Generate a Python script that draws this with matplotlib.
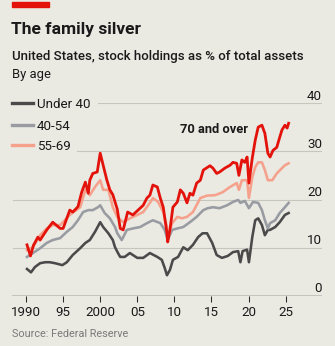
import matplotlib
matplotlib.use("Agg")
import matplotlib.pyplot as plt
from matplotlib.lines import Line2D
from matplotlib.patches import Rectangle
import matplotlib.transforms as mtransforms

# Share of total assets held in stocks, US households by age of head (%)
years_70_over = [1990.13, 1990.6, 1991.0, 1991.6, 1991.9, 1992.8, 1993.6, 1994.6, 1995.0,
                 1995.9, 1996.3, 1997.0, 1997.5, 1998.0, 1998.4, 1998.6, 1999.0, 1999.6,
                 2000.0, 2000.4, 2000.9, 2001.3, 2001.7, 2002.0, 2002.3, 2002.7, 2003.1,
                 2003.7, 2004.4, 2005.1, 2005.8, 2006.3, 2006.7, 2007.1, 2007.7, 2008.1,
                 2008.5, 2009.0, 2009.1, 2009.4, 2009.8, 2010.4, 2010.8, 2011.2, 2011.7,
                 2012.1, 2012.5, 2013.0, 2013.5, 2013.9, 2014.4, 2014.8, 2015.2, 2015.7,
                 2016.1, 2016.8, 2017.5, 2017.9, 2018.4, 2018.7, 2019.1, 2019.5, 2019.8,
                 2020.05, 2020.5, 2020.9, 2021.3, 2021.8, 2022.2, 2022.6, 2022.9, 2023.3,
                 2023.8, 2024.2, 2024.5, 2024.9, 2025.2, 2025.4]
share_70_over = [10.6, 8.3, 10.5, 12.2, 11.6, 13.7, 15.3, 14.0, 14.0,
                 17.8, 17.4, 18.5, 21.5, 23.6, 21.3, 24.0, 25.4, 25.7,
                 29.6, 27.1, 24.0, 22.0, 21.0, 19.5, 18.0, 14.0, 13.7,
                 17.4, 16.8, 17.8, 18.8, 20.3, 20.9, 23.0, 22.6, 20.3,
                 18.4, 13.0, 11.2, 13.7, 18.4, 19.5, 22.0, 21.3, 19.3,
                 21.3, 20.9, 23.4, 24.0, 26.1, 26.6, 27.0, 26.5, 25.4,
                 25.7, 26.5, 27.1, 27.7, 27.5, 25.0, 28.2, 27.7, 28.8,
                 23.4, 28.6, 32.3, 35.0, 35.4, 33.7, 29.6, 28.8, 30.2,
                 30.8, 32.9, 34.4, 35.4, 34.8, 35.8]

years_55_69 = [1990.13, 1990.94, 1991.9, 1992.8, 1993.6, 1994.6, 1995.9, 1997.3, 1998.0,
               1998.6, 1999.3, 2000.0, 2000.4, 2001.1, 2001.7, 2002.3, 2003.1, 2004.0,
               2005.0, 2005.8, 2006.7, 2007.1, 2007.8, 2008.5, 2009.0, 2009.1, 2009.7,
               2010.4, 2011.0, 2011.7, 2012.5, 2013.5, 2014.4, 2015.5, 2016.5, 2017.5,
               2018.4, 2018.7, 2019.1, 2019.8, 2020.05, 2020.5, 2020.9, 2021.3, 2021.8,
               2022.2, 2022.6, 2023.2, 2023.8, 2024.5, 2024.9, 2025.4]
share_55_69 = [9.5, 10.1, 12.6, 14.0, 14.7, 14.7, 16.8, 18.4, 22.0,
               20.9, 22.6, 24.0, 22.0, 22.0, 18.4, 16.4, 15.3, 16.1,
               16.8, 17.4, 19.3, 20.3, 19.5, 17.4, 14.3, 12.0, 15.1,
               16.4, 16.1, 16.4, 17.4, 20.3, 20.8, 20.9, 21.5, 22.6,
               23.4, 22.0, 24.0, 24.0, 20.3, 24.6, 26.7, 27.7, 27.7,
               26.1, 24.0, 24.0, 25.4, 26.5, 27.1, 27.5]

years_40_54 = [1990.13, 1990.94, 1991.9, 1992.8, 1993.6, 1994.6, 1995.5, 1996.3, 1997.0,
               1997.7, 1998.4, 1999.0, 1999.7, 2000.0, 2000.6, 2001.3, 2002.0, 2002.3,
               2002.9, 2003.6, 2004.4, 2005.4, 2006.3, 2007.1, 2008.1, 2008.7, 2009.1,
               2009.7, 2010.4, 2011.2, 2012.1, 2013.0, 2013.9, 2014.5, 2015.2, 2016.1,
               2017.1, 2017.9, 2018.6, 2018.9, 2019.5, 2020.05, 2020.6, 2021.3, 2021.8,
               2022.2, 2022.6, 2022.9, 2023.6, 2024.2, 2024.9, 2025.4]
share_40_54 = [8.1, 8.9, 9.9, 11.0, 11.6, 12.0, 13.3, 14.3, 15.7,
               17.4, 17.8, 17.8, 18.4, 18.8, 17.2, 16.1, 14.3, 13.0,
               11.6, 13.7, 14.0, 14.3, 15.1, 15.7, 15.1, 13.7, 11.6,
               13.7, 14.0, 14.3, 15.3, 16.4, 17.8, 18.2, 18.4, 18.2,
               18.8, 19.5, 19.9, 19.3, 19.7, 18.2, 19.5, 19.3, 17.8,
               15.7, 14.0, 15.1, 15.7, 17.2, 18.4, 19.3]

years_under_40 = [1990.13, 1990.67, 1991.2, 1991.9, 1992.6, 1993.2, 1993.9, 1994.9, 1995.5,
                  1996.3, 1997.3, 1998.0, 1998.6, 1999.3, 2000.0, 2000.4, 2001.1, 2001.7,
                  2002.0, 2002.4, 2002.7, 2003.3, 2004.0, 2005.0, 2005.8, 2006.7, 2007.7,
                  2008.3, 2008.7, 2009.0, 2009.4, 2009.8, 2010.5, 2011.2, 2011.8, 2012.5,
                  2013.2, 2013.8, 2014.4, 2015.1, 2015.7, 2016.4, 2017.2, 2017.9, 2018.6,
                  2018.9, 2019.2, 2019.8, 2020.05, 2020.5, 2020.9, 2021.3, 2021.8, 2022.2,
                  2022.6, 2022.9, 2023.6, 2024.2, 2024.9, 2025.4]
share_under_40 = [5.6, 4.9, 6.0, 6.8, 7.0, 7.0, 6.8, 6.4, 7.0,
                  8.5, 9.9, 11.0, 11.6, 13.3, 15.3, 14.3, 13.0, 11.6,
                  10.1, 8.9, 8.1, 8.1, 8.9, 7.9, 7.9, 8.9, 8.1,
                  7.5, 5.8, 4.3, 5.4, 7.5, 8.1, 10.1, 9.5, 10.6,
                  12.2, 13.0, 13.0, 11.0, 8.5, 7.9, 8.3, 9.1, 9.3,
                  7.0, 9.3, 9.6, 7.0, 12.2, 15.7, 16.1, 14.7, 12.6,
                  13.7, 13.7, 14.3, 15.3, 16.8, 17.2]

series_labels = ["Under 40", "40-54", "55-69", "70 and over"]
y_ticks = [0, 10, 20, 30, 40]
x_ticks = [1990, 1995, 2000, 2005, 2010, 2015, 2020, 2025]
x_tick_labels = ["1990", "95", "2000", "05", "10", "15", "20", "25"]

BG = "#EAE9E2"
RED = "#E3120B"
SALMON = "#F5A18C"
MIDGREY = "#989BA2"
DARKGREY = "#4A4A4A"
GRID = "#C6C5BE"
TEXT = "#1A1A1A"

W, H = 335, 346
plt.rcParams["font.family"] = ["Roboto", "DejaVu Sans"]

fig = plt.figure(figsize=(W / 100, H / 100), dpi=100, facecolor=BG)


def px(x, y):
    return x / W, 1 - y / H


# axes spanning the plot area (pixel edges)
left, right, top, bottom = 12, 322, 103, 296
ax = fig.add_axes([left / W, 1 - bottom / H, (right - left) / W, (bottom - top) / H])
ax.set_facecolor(BG)
ax.set_xlim(1988.11, 2029.9)
ax.set_ylim(0, 40)
for s in ax.spines.values():
    s.set_visible(False)

# horizontal gridlines, cut back where the legend sits
grid_start = {10: 1, 20: 1, 30: 65, 40: 86}
for v in y_ticks[1:]:
    ax.axhline(v, xmin=grid_start[v] / (right - left), xmax=1, color=GRID, lw=0.8, zorder=1)
ax.axhline(0, color="#2B2B2B", lw=1.0, zorder=5)

# right-side value labels above gridlines
off = mtransforms.offset_copy(ax.get_yaxis_transform(), fig=fig, x=0, y=3.5, units="dots")
for v in y_ticks:
    ax.text(1.0, v, str(v), transform=off, ha="right", va="baseline",
            fontsize=9.6, color=TEXT)

ax.set_yticks([])
ax.set_xticks(x_ticks)
ax.set_xticklabels(x_tick_labels)
ax.tick_params(axis="x", direction="out", length=4.3, width=0.75, color="#2B2B2B",
               pad=3.2, labelsize=9.6, labelcolor=TEXT)

lw_main = 1.85
ax.plot(years_under_40, share_under_40, color=DARKGREY, lw=lw_main, zorder=3,
        solid_joinstyle="round", label=series_labels[0])
ax.plot(years_40_54, share_40_54, color=MIDGREY, lw=lw_main, zorder=3.2,
        solid_joinstyle="round", label=series_labels[1])
ax.plot(years_55_69, share_55_69, color=SALMON, lw=lw_main, zorder=3.4,
        solid_joinstyle="round", label=series_labels[2])
ax.plot(years_70_over, share_70_over, color=RED, lw=2.0, zorder=3.6,
        solid_joinstyle="round", label=series_labels[3])

# direct label for the oldest group
fig.text(*px(180, 133.3), series_labels[3], fontsize=9.3, fontweight="bold",
         color=TEXT, ha="left", va="baseline")

# legend swatches
for (yy, col, lab) in [(103, DARKGREY, series_labels[0]),
                       (124.5, MIDGREY, series_labels[1]),
                       (145, SALMON, series_labels[2])]:
    x0, y0 = px(12, yy)
    x1, _ = px(33, yy)
    fig.add_artist(Line2D([x0, x1], [y0, y0], color=col, lw=2.4))
    fig.text(*px(37, yy + 5), lab, fontsize=9.6, color=TEXT, ha="left", va="baseline")

# header
fig.add_artist(Rectangle(px(12, 7.3), (49.3 - 12) / W, 5.6 / H, color=RED,
                         transform=fig.transFigure))
fig.text(*px(11, 34), "The family silver", fontsize=12.5, fontweight="bold",
         color=TEXT, ha="left", va="baseline")
fig.text(*px(12, 60), "United States, stock holdings as % of total assets",
         fontsize=9.5, fontweight="medium", color=TEXT, ha="left", va="baseline")
fig.text(*px(12, 78), "By age", fontsize=9.4, color=TEXT, ha="left", va="baseline")
fig.text(*px(12, 337), "Source: Federal Reserve", fontsize=7.8, color="#7A7A7A",
         ha="left", va="baseline")

fig.savefig("out.png", dpi=100, facecolor=BG)
